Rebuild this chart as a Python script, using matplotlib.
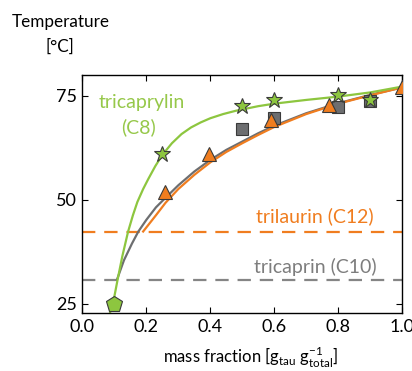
import matplotlib as mpl
import matplotlib.pyplot as plt

# --- data ----------------------------------------------------------------
# fitted curves (mass fraction, temperature in degC)
c8_x = [0.085, 0.098, 0.11, 0.125, 0.143, 0.158, 0.172, 0.19, 0.206, 0.228, 0.25,
        0.28, 0.31, 0.34, 0.37, 0.40, 0.44, 0.48, 0.55, 0.60, 0.70, 0.80, 0.90, 1.0]
c8_t = [22.5, 26.0, 30.8, 36.5, 42.4, 46.3, 49.5, 52.6, 55.0, 58.1, 60.8,
        63.6, 65.8, 67.4, 68.6, 69.6, 70.6, 71.4, 72.5, 73.1, 74.0, 74.8, 75.8, 77.2]
c10_x = [0.108, 0.13, 0.155, 0.175, 0.20, 0.23, 0.26, 0.30, 0.35, 0.40, 0.45,
         0.50, 0.55, 0.60, 0.70, 0.80, 0.90, 1.0]
c10_t = [30.8, 35.5, 39.5, 42.4, 45.2, 48.2, 50.5, 53.5, 56.8, 59.6, 62.0,
         64.0, 66.0, 67.8, 70.8, 73.2, 75.2, 77.0]
c12_x = [0.19, 0.23, 0.26, 0.30, 0.35, 0.40, 0.45, 0.50, 0.55, 0.60, 0.70,
         0.80, 0.90, 1.0]
c12_t = [42.4, 46.3, 49.3, 52.6, 56.0, 59.0, 61.5, 63.6, 65.6, 67.5, 70.6,
         73.1, 75.1, 77.0]

# measured points
star_x = [0.25, 0.50, 0.60, 0.80, 0.90]
star_t = [61.1, 72.6, 74.0, 75.1, 74.0]
penta_x = [0.098]
penta_t = [25.0]
sq_x = [0.50, 0.60, 0.80, 0.90]
sq_t = [67.0, 69.6, 72.4, 73.8]
tri_x = [0.257, 0.395, 0.59, 0.77, 1.0]
tri_t = [51.9, 61.0, 69.2, 72.8, 77.2]

# pure-component melting lines
mp_c12 = 42.4
mp_c10 = 30.8

GREEN = "#8dc63f"
ORANGE = "#f07d1f"
GREY = "#6d6e70"
GREY_D = "#858585"
EDGE = "#3a3a3a"

mpl.rcParams.update({
    "font.family": ["Lato", "DejaVu Sans"],
    "font.size": 12,
    "mathtext.fontset": "custom",
    "mathtext.rm": "Lato",
    "xtick.direction": "in", "ytick.direction": "in",
    "xtick.top": True, "ytick.right": True,
    "xtick.major.size": 4, "ytick.major.size": 4,
    "axes.linewidth": 1.0,
})

fig = plt.figure(figsize=(4.12, 3.71), dpi=100)
ax = fig.add_axes([0.200, 0.156, 0.776, 0.642])

ax.axhline(mp_c12, color=ORANGE, lw=1.6, ls=(0, (6, 4)), zorder=1)
ax.axhline(mp_c10, color=GREY_D, lw=1.6, ls=(0, (6, 4)), zorder=1)

ax.plot(c10_x, c10_t, color=GREY, lw=1.6, zorder=2)
ax.plot(c12_x, c12_t, color=ORANGE, lw=1.6, zorder=2)
ax.plot(c8_x, c8_t, color=GREEN, lw=1.6, zorder=2)

ax.plot(sq_x, sq_t, ls="none", marker="s", ms=8, mfc=GREY, mec=EDGE, mew=0.8, zorder=3)
ax.plot(tri_x, tri_t, ls="none", marker="^", ms=10.5, mfc=ORANGE, mec=EDGE, mew=0.8, zorder=4)
ax.plot(star_x, star_t, ls="none", marker="*", ms=12, mfc=GREEN, mec=EDGE, mew=0.8, zorder=5)
ax.plot(penta_x, penta_t, ls="none", marker="p", ms=12, mfc=GREEN, mec=EDGE, mew=0.8,
        zorder=5, clip_on=False)

ax.set_xlim(0.0, 1.0)
ax.set_ylim(22.8, 80.0)
ax.set_xticks([0.0, 0.2, 0.4, 0.6, 0.8, 1.0])
ax.set_xticklabels(["0.0", "0.2", "0.4", "0.6", "0.8", "1.0"])
ax.set_yticks([25, 50, 75])
ax.tick_params(labelsize=13, pad=4)

ax.text(0.187, 73.3, "tricaprylin", color="#96c84a", fontsize=14, ha="center", va="center")
ax.text(0.175, 67.4, "(C8)", color="#96c84a", fontsize=14, ha="center", va="center")
ax.text(0.727, 46.0, "trilaurin (C12)", color=ORANGE, fontsize=14, ha="center", va="center")
ax.text(0.73, 34.0, "tricaprin (C10)", color="#7d7d7d", fontsize=14, ha="center", va="center")

fig.text(61 / 412, 1 - 22 / 371, "Temperature", fontsize=12.3, ha="center", va="center")
fig.text(60 / 412, 1 - 47 / 371, "[°C]", fontsize=12.3, ha="center", va="center")
fig.text(251 / 412, 1 - 357 / 371,
         r"mass fraction [g$_{\mathregular{tau}}$ g$^{\mathregular{-1}}_{\mathregular{total}}$]",
         fontsize=12, ha="center", va="center")

fig.savefig("out.png", dpi=100)
